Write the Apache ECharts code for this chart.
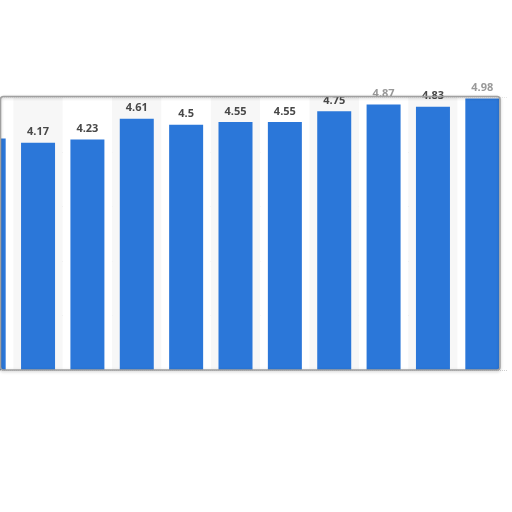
<!DOCTYPE html>
<html>
<head>
<meta charset="utf-8">
<script src="https://cdn.jsdelivr.net/npm/echarts@6/dist/echarts.min.js"></script>
<style>
  html, body { margin: 0; padding: 0; background: #fff; overflow: hidden; }
  #wrap { width: 512px; height: 512px; overflow: hidden; position: relative; }
  /* the source picture is a crop: the first category starts off the left edge */
  #chart { position: absolute; left: -36px; top: 0; width: 543px; height: 512px; }
</style>
</head>
<body>
<div id="wrap"><div id="chart"></div></div>
<script>
// categories are cropped out of the picture, so plain indices
var categories = ['1', '2', '3', '4', '5', '6', '7', '8', '9', '10', '11'];
var values = [4.25, 4.17, 4.23, 4.61, 4.5, 4.55, 4.55, 4.75, 4.87, 4.83, 4.98];
var yTicks = { min: 0, max: 5, interval: 1 };

var barColor = '#2b77d9';
var shift = 36; // px the chart is moved left

var seriesData = values.map(function (v, i) {
  var d = { value: v };
  // the two tallest labels sit over the frame line and look faded
  if (i === 8 || i === 10) d.label = { color: '#999' };
  return d;
});

var chart = echarts.init(document.getElementById('chart'));

var option = {
  animation: false,
  backgroundColor: '#fff',
  grid: { left: 0, right: 0, top: 97.5, bottom: 142, containLabel: false },
  xAxis: {
    type: 'category',
    data: categories,
    axisLine: { show: false },
    axisTick: { show: false },
    axisLabel: { show: false },
    splitArea: { show: true, areaStyle: { color: ['#ffffff', '#f7f7f7'] } }
  },
  yAxis: {
    type: 'value',
    min: yTicks.min,
    max: yTicks.max,
    interval: yTicks.interval,
    axisLine: { show: false },
    axisTick: { show: false },
    axisLabel: { show: false },
    splitLine: { lineStyle: { color: '#d0d0d0', type: 'dotted', width: 1 } }
  },
  series: [{
    type: 'bar',
    data: seriesData,
    barWidth: 34,
    itemStyle: { color: barColor },
    label: {
      show: true,
      position: 'top',
      distance: 5,
      color: '#484848',
      fontFamily: 'Open Sans',
      fontWeight: 'bold',
      fontSize: 11
    }
  }],
  graphic: [
    {
      type: 'rect', z: 50, silent: true,
      shape: { x: shift + 501, y: 98, width: 12, height: 271 },
      style: { fill: '#fff' }
    },
    {
      type: 'rect', z: 60, silent: true,
      shape: { x: shift + 0.5, y: 96.5, width: 499.5, height: 273.5, r: 3 },
      style: {
        fill: 'none', stroke: '#a0a0a0', lineWidth: 1.5,
        shadowBlur: 3, shadowColor: 'rgba(0,0,0,0.25)', shadowOffsetY: 1
      }
    }
  ]
};

chart.setOption(option);
</script>
</body>
</html>
